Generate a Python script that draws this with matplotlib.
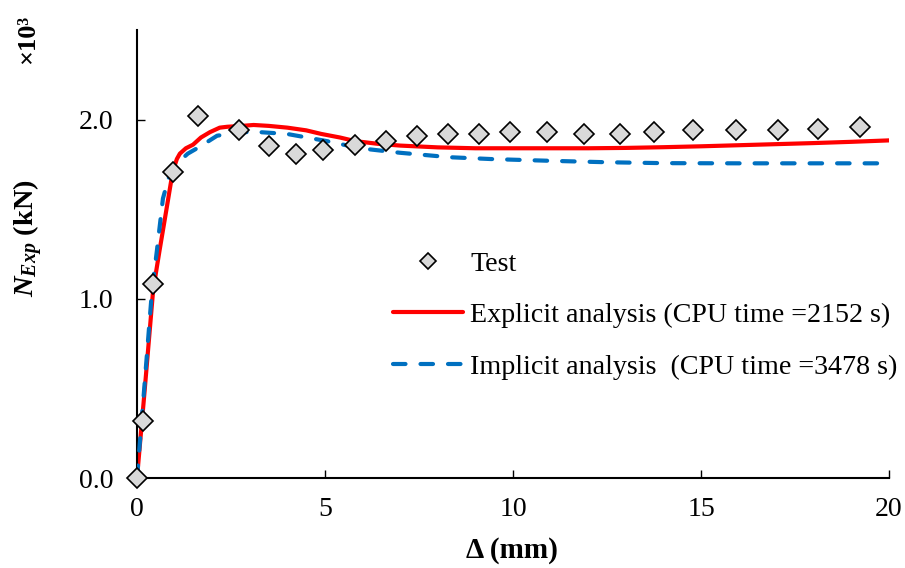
import numpy as np
import matplotlib
matplotlib.use('Agg')
import matplotlib.pyplot as plt

# ------------------------------------------------------------
# Data, N in kN x10^3
# ------------------------------------------------------------
test_d = [0.0, 0.16, 0.43, 0.96, 1.62, 2.72, 3.51, 4.24, 4.95, 5.80, 6.62,
          7.45, 8.27, 9.09, 9.92, 10.90, 11.89, 12.85, 13.75, 14.79, 15.93,
          17.05, 18.11, 19.23]
test_n = [0.0, 0.32, 1.08, 1.71, 2.02, 1.94, 1.85, 1.81, 1.83, 1.86, 1.88,
          1.91, 1.92, 1.92, 1.93, 1.93, 1.92, 1.92, 1.93, 1.94, 1.94,
          1.94, 1.95, 1.96]

expl_d = [0.0, 0.2, 0.43, 0.6, 0.8, 0.95, 1.06, 1.14, 1.3, 1.49, 1.7, 1.94,
          2.2, 2.4, 2.8, 3.1, 3.5, 4.0, 4.5, 4.9, 5.4, 5.8, 6.4, 7.0, 8.0,
          9.0, 10.0, 11.0, 12.0, 13.0, 14.0, 15.0, 16.0, 17.0, 18.0, 19.0, 20.0]
expl_n = [0.0, 0.48, 1.05, 1.27, 1.52, 1.71, 1.78, 1.81, 1.84, 1.86, 1.90,
          1.93, 1.955, 1.96, 1.965, 1.97, 1.965, 1.955, 1.94, 1.92, 1.90,
          1.88, 1.865, 1.855, 1.845, 1.84, 1.84, 1.84, 1.84, 1.842, 1.846,
          1.851, 1.857, 1.863, 1.869, 1.876, 1.884]

impl_d = [0.0, 0.2, 0.4, 0.53, 0.69, 0.85, 1.09, 1.35, 1.68, 2.13, 2.74,
          3.27, 3.99, 5.05, 5.93, 6.99, 8.32, 9.4, 11.0, 12.5, 14.0, 16.0,
          18.0, 20.0]
impl_n = [0.0, 0.52, 1.05, 1.27, 1.56, 1.68, 1.76, 1.81, 1.85, 1.91, 1.93,
          1.93, 1.92, 1.88, 1.84, 1.815, 1.79, 1.78, 1.77, 1.762, 1.757,
          1.756, 1.756, 1.756]

labels = ['Test',
          'Explicit analysis (CPU time =2152 s)',
          'Implicit analysis  (CPU time =3478 s)']

# ------------------------------------------------------------
# Style
# ------------------------------------------------------------
plt.rcParams['font.family'] = ['Liberation Serif', 'DejaVu Serif']
plt.rcParams['font.size'] = 20
plt.rcParams['mathtext.fontset'] = 'custom'
plt.rcParams['mathtext.it'] = 'Liberation Serif:italic:bold'
plt.rcParams['mathtext.rm'] = 'Liberation Serif:bold'

fig = plt.figure(figsize=(9.05, 5.68), dpi=100)
ax = fig.add_axes([137 / 905, 1 - 478 / 568, (889 - 137) / 905, (478 - 30) / 568])

ax.plot(expl_d, expl_n, color='#FF0000', lw=3.0, solid_capstyle='round',
        label=labels[1], zorder=2)
ax.plot(impl_d, impl_n, color='#0070C0', lw=3.0, dashes=(3.0, 3.6),
        dash_capstyle='round', label=labels[2], zorder=3)
ax.plot(test_d, test_n, ls='none', marker='D', ms=10.5, mfc='#D9D9D9',
        mec='black', mew=1.2, label=labels[0], zorder=4, clip_on=False)

ax.set_xlim(0, 20)
ax.set_ylim(0, 2.5)
ax.set_xticks([0, 5, 10, 15, 20])
ax.set_yticks([0.0, 1.0, 2.0])
ax.set_yticklabels(['0.0', '1.0', '2.0'])
ax.tick_params(axis='x', direction='in', length=5.5, width=1, pad=14,
               labelsize=20)
ax.tick_params(axis='y', direction='in', length=6, width=1, pad=17,
               labelsize=20)

for s in ['top', 'right']:
    ax.spines[s].set_visible(False)
for s in ['left', 'bottom']:
    ax.spines[s].set_linewidth(1.5)

fig.text(512 / 905, 1 - 550 / 568, 'Δ (mm)', fontweight='bold', fontsize=21,
         ha='center', va='center')
fig.text(28 / 905, 1 - 238 / 568, r'$N_{Exp}$ (kN)', rotation=90,
         fontweight='bold', fontsize=20.5, ha='center', va='center')
fig.text(28 / 905, 1 - 39 / 568, '×10³', rotation=90, fontweight='bold',
         fontsize=19, ha='center', va='center')

h, l = ax.get_legend_handles_labels()
order = [2, 0, 1]
ax.legend([h[i] for i in order], [l[i] for i in order],
          loc='upper left', bbox_to_anchor=(393 / 905, 1 - 251 / 568),
          bbox_transform=fig.transFigure, frameon=False, fontsize=20.2,
          handlelength=2.5, handletextpad=0.25, labelspacing=0.92,
          borderpad=0, borderaxespad=0, markerscale=0.75)

fig.savefig('out.png', dpi=100)
